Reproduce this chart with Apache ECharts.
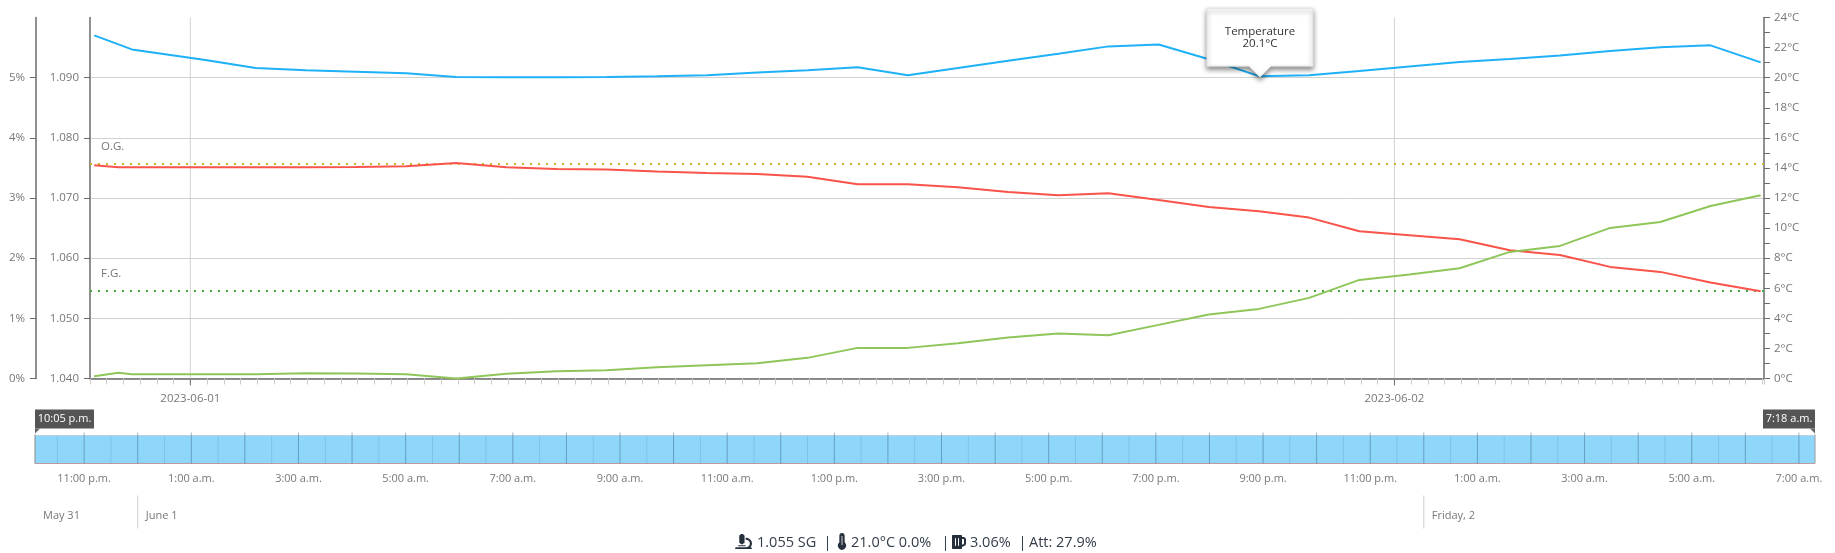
<!DOCTYPE html>
<html><head><meta charset="utf-8">
<style>html,body{margin:0;padding:0;background:#fff}#c{width:1835px;height:553px}</style>
<script src="https://cdn.jsdelivr.net/npm/echarts@6/dist/echarts.min.js"></script>
</head><body><div id="c"></div>
<script>
// minutes relative to 2023-06-01 00:00
const times=[-115,-86,-70,18,78,138,198,258,318,378,438,498,558,618,678,738,798,858,918,978,1038,1098,1158,1218,1278,1338,1398,1458,1518,1578,1638,1698,1758,1818,1878];
const temperature=[22.81,22.21,21.88,21.17,20.64,20.49,20.40,20.29,20.04,20.02,20.02,20.04,20.09,20.16,20.35,20.49,20.69,20.16,20.64,21.13,21.59,22.08,22.21,21.22,20.1,20.16,20.44,20.75,21.04,21.24,21.48,21.77,22.02,22.15,21.02];
const gravity=[1.07544,1.07511,1.07511,1.07511,1.07511,1.07511,1.07516,1.07527,1.07583,1.07511,1.07483,1.07472,1.07439,1.07416,1.0740,1.07355,1.07228,1.07228,1.07178,1.07101,1.07045,1.07079,1.06968,1.06852,1.0678,1.06674,1.06447,1.06381,1.06315,1.06132,1.06054,1.05855,1.05772,1.05595,1.05451];
const abv=[0.039,0.094,0.072,0.072,0.072,0.089,0.083,0.072,0,0.078,0.122,0.138,0.188,0.221,0.255,0.343,0.509,0.509,0.587,0.681,0.748,0.72,0.891,1.063,1.157,1.34,1.639,1.728,1.833,2.104,2.204,2.503,2.602,2.868,3.045];
const og=1.0757, fg=1.0546;
const sgTicks=[1.04,1.05,1.06,1.07,1.08,1.09];
const abvTicks=[0,1,2,3,4,5];
const dayTicks=[{t:0,label:'2023-06-01'},{t:1440,label:'2023-06-02'}];
const hourMarks=[-60,0,60,120,180,240,300,360,420,480,540,600,660,720,780,840,900,960,1020,1080,1140,1200,1260,1320,1380,1440,1500,1560,1620,1680,1740,1800,1860];
const halfMarks=[-90,-30,30,90,150,210,270,330,390,450,510,570,630,690,750,810,870,930,990,1050,1110,1170,1230,1290,1350,1410,1470,1530,1590,1650,1710,1770,1830];
const navLabels=[-60,60,180,300,420,540,660,780,900,1020,1140,1260,1380,1500,1620,1740,1860];
const navText=['11:00 p.m.','1:00 a.m.','3:00 a.m.','5:00 a.m.','7:00 a.m.','9:00 a.m.','11:00 a.m.','1:00 p.m.','3:00 p.m.','5:00 p.m.','7:00 p.m.','9:00 p.m.','11:00 p.m.','1:00 a.m.','3:00 a.m.','5:00 a.m.','7:00 a.m.'];
const dateRow=[{t:-115,label:'May 31',line:false},{t:0,label:'June 1',line:true},{t:1440,label:'Friday, 2',line:true}];
const startT=-115,endT=1878,startLabel='10:05 p.m.',endLabel='7:18 a.m.';
const tipIndex=24, tipTitle='Temperature', tipValue='20.1°C';

const FONT='"Open Sans"';
const GREY='#777';
const AX='#6b6b6b';
const ICON='#26303c';
const icons=[
 {d:'M160 320h12v16c0 8.84 7.16 16 16 16h40c8.84 0 16-7.16 16-16v-16h12c17.67 0 32-14.33 32-32V64c0-17.67-14.33-32-32-32V16c0-8.84-7.16-16-16-16h-64c-8.84 0-16 7.16-16 16v16c-17.67 0-32 14.33-32 32v224c0 17.67 14.33 32 32 32zm304 128h-1.29C493.24 413.99 512 369.2 512 320c0-105.88-86.12-192-192-192v64c70.58 0 128 57.42 128 128s-57.42 128-128 128H48c-26.51 0-48 21.49-48 48 0 8.84 7.16 16 16 16h480c8.84 0 16-7.16 16-16 0-26.51-21.49-48-48-48zm-360-32h208c4.42 0 8-3.58 8-8v-16c0-4.42-3.58-8-8-8H104c-4.42 0-8 3.58-8 8v16c0 4.42 3.58 8 8 8z',x:735,y:534,w:17,h:15},
 {d:'M8 0a4 4 0 0 0-4 4v8.5a6 6 0 1 0 8 0V4a4 4 0 0 0-4-4z',x:838,y:533,w:8,h:17},
 {d:'M368 96h-48V56c0-13.255-10.745-24-24-24H24C10.745 32 0 42.745 0 56v400c0 13.255 10.745 24 24 24h272c13.255 0 24-10.745 24-24v-42.11l80.606-35.977C429.396 365.063 448 336.388 448 304.86V176c0-44.112-35.888-80-80-80zm16 208.86a16.018 16.018 0 0 1-9.479 14.611L320 343.805V160h48c8.822 0 16 7.178 16 16v128.86zM208 384c-8.836 0-16-7.164-16-16V144c0-8.836 7.164-16 16-16s16 7.164 16 16v224c0 8.836-7.164 16-16 16zm-96 0c-8.836 0-16-7.164-16-16V144c0-8.836 7.164-16 16-16s16 7.164 16 16v224c0 8.836-7.164 16-16 16z',x:952,y:535,w:14,h:14}
];
const pair=a=>times.map((t,i)=>[t,a[i]]);
const lineSeries=(name,arr,yi,color,extra)=>Object.assign({name,type:'line',xAxisIndex:0,yAxisIndex:yi,data:pair(arr),showSymbol:false,clip:false,silent:true,z:5,lineStyle:{width:2,color}},extra||{});
const refLine=(v,name,color)=>({yAxis:v,name,lineStyle:{color,type:[2,6],width:2,cap:'butt',opacity:1},symbol:'none',
  label:{show:true,formatter:name,position:'insideStartTop',distance:[11,11],color:GREY,fontFamily:FONT,fontSize:11.5}});

const option={
 animation:false,
 backgroundColor:'#fff',
 textStyle:{fontFamily:FONT},
 grid:[{left:90,right:71,top:17.5,height:361,containLabel:false},{left:35,right:20,top:435.5,height:28}],
 xAxis:[
  {type:'value',gridIndex:0,min:-120,max:1882,interval:20,
   axisLine:{show:true,onZero:false,lineStyle:{color:AX,width:1.5}},
   axisTick:{show:true,length:6,lineStyle:{color:'#ccc',width:1}},
   splitLine:{show:false},
   axisLabel:{show:true,margin:14,color:GREY,fontFamily:FONT,fontSize:11.5,hideOverlap:false,
     formatter:v=>{const d=dayTicks.find(x=>x.t===v);return d?d.label:'';}}},
  {type:'value',gridIndex:1,min:startT,max:endT,
   axisLine:{show:false},axisTick:{show:false},splitLine:{show:false},
   axisLabel:{show:true,margin:10,color:GREY,fontFamily:FONT,fontSize:11,hideOverlap:false,showMinLabel:true,showMaxLabel:true,
     customValues:navLabels,formatter:v=>navText[navLabels.indexOf(v)]||''}}
 ],
 yAxis:[
  {type:'value',gridIndex:0,position:'left',min:1.04,max:1.10,interval:0.01,
   axisLine:{show:true,onZero:false,lineStyle:{color:AX,width:1.5}},
   axisTick:{show:true,length:6,lineStyle:{color:AX},customValues:sgTicks},
   splitLine:{show:true,lineStyle:{color:'#d2d2d2',width:1}},
   axisLabel:{margin:11,color:GREY,fontFamily:FONT,fontSize:11.5,customValues:sgTicks,formatter:v=>v.toFixed(3)}},
  {type:'value',gridIndex:0,position:'left',offset:54,min:0,max:6,interval:1,
   axisLine:{show:true,onZero:false,lineStyle:{color:AX,width:1.5}},
   axisTick:{show:true,length:6,lineStyle:{color:AX},customValues:abvTicks},
   splitLine:{show:false},
   axisLabel:{margin:11,color:GREY,fontFamily:FONT,fontSize:11.5,customValues:abvTicks,formatter:v=>v+'%'}},
  {type:'value',gridIndex:0,position:'right',min:0,max:24,interval:1,
   axisLine:{show:true,onZero:false,lineStyle:{color:AX,width:1.5}},
   axisTick:{show:true,length:6,lineStyle:{color:AX}},
   splitLine:{show:false},
   axisLabel:{margin:10,color:GREY,fontFamily:FONT,fontSize:11.5,formatter:v=>v%2===0?v+'°C':''}},
  {type:'value',gridIndex:1,min:0,max:1,show:false}
 ],
 series:[
  // midnight gridlines + long ticks
  {type:'custom',xAxisIndex:0,yAxisIndex:0,data:dayTicks.map(d=>[d.t,1.04]),clip:false,silent:true,z:1,
   renderItem:(p,api)=>{const b=api.coord([api.value(0),1.04]),t=api.coord([api.value(0),1.10]);
     return {type:'group',children:[
       {type:'line',shape:{x1:b[0],y1:t[1],x2:b[0],y2:b[1]},style:{stroke:'#d2d2d2',lineWidth:1}},
       {type:'line',shape:{x1:b[0],y1:b[1],x2:b[0],y2:b[1]+7},style:{stroke:AX,lineWidth:1}}]};}},
  lineSeries('Temperature',temperature,2,'#1fb1f7'),
  lineSeries('Gravity',gravity,0,'#f9534a',{markLine:{silent:true,symbol:'none',precision:4,animation:false,data:[refLine(og,'O.G.','#cdb323'),refLine(fg,'F.G.','#3fae3f')]}}),
  lineSeries('ABV',abv,1,'#8fc65a'),
  // tooltip callout
  {type:'custom',xAxisIndex:0,yAxisIndex:2,data:[[times[tipIndex],temperature[tipIndex]]],clip:false,silent:true,z:30,
   renderItem:(p,api)=>{const c=api.coord([api.value(0),api.value(1)]);const x=c[0]+1,y=c[1]+1;
     const l=x-53,r=x+53,b=y-11,t=y-69;
     return {type:'group',children:[
       {type:'polygon',shape:{points:[[l,t],[r,t],[r,b],[x+11,b],[x,y],[x-11,b],[l,b]]},
        style:{fill:'#fff',stroke:'#e2e2e2',lineWidth:1,shadowBlur:5,shadowColor:'rgba(0,0,0,0.45)',shadowOffsetY:3,shadowOffsetX:0}},
       {type:'text',x:x,y:t+24,style:{text:tipTitle,fill:'#333',font:'11.5px '+FONT,textAlign:'center',textVerticalAlign:'middle'}},
       {type:'text',x:x,y:t+36,style:{text:tipValue,fill:'#333',font:'11.5px '+FONT,textAlign:'center',textVerticalAlign:'middle'}}]};}},
  // navigator band
  {type:'custom',xAxisIndex:1,yAxisIndex:3,data:[[startT,endT]],clip:false,silent:true,z:2,
   renderItem:(p,api)=>{const a=api.coord([api.value(0),1]),b=api.coord([api.value(1),0]);
     return {type:'group',children:[
       {type:'rect',shape:{x:a[0],y:a[1],width:b[0]-a[0],height:b[1]-a[1]},style:{fill:'#8fd7fa'}},
       {type:'line',shape:{x1:a[0],y1:b[1],x2:b[0],y2:b[1]},style:{stroke:'#c09a9e',lineWidth:1}},
       {type:'line',shape:{x1:a[0],y1:a[1],x2:b[0],y2:a[1]},style:{stroke:'#bcd3de',lineWidth:1}},
       {type:'line',shape:{x1:a[0],y1:a[1]-1,x2:a[0],y2:b[1]},style:{stroke:'#8a8a8a',lineWidth:1}},
       {type:'line',shape:{x1:b[0],y1:a[1]-1,x2:b[0],y2:b[1]},style:{stroke:'#9a9a9a',lineWidth:1}}]};}},
  {type:'custom',xAxisIndex:1,yAxisIndex:3,data:halfMarks.map(t=>[t]),clip:false,silent:true,z:3,
   renderItem:(p,api)=>{const a=api.coord([api.value(0),1]),b=api.coord([api.value(0),0]);
     return {type:'line',shape:{x1:a[0],y1:a[1],x2:a[0],y2:b[1]},style:{stroke:'rgba(70,140,190,0.25)',lineWidth:1}};}},
  {type:'custom',xAxisIndex:1,yAxisIndex:3,data:hourMarks.map(t=>[t]),clip:false,silent:true,z:3,
   renderItem:(p,api)=>{const a=api.coord([api.value(0),1]),b=api.coord([api.value(0),0]);
     return {type:'line',shape:{x1:a[0],y1:a[1]-3,x2:a[0],y2:b[1]},style:{stroke:'rgba(50,90,125,0.45)',lineWidth:1}};}},
  // date row
  {type:'custom',xAxisIndex:1,yAxisIndex:3,data:dateRow.map((d,i)=>[d.t,i]),clip:false,silent:true,z:3,
   renderItem:(p,api)=>{const d=dateRow[api.value(1)];const b=api.coord([api.value(0),0]);const ch=[];
     if(d.line)ch.push({type:'line',shape:{x1:b[0],y1:b[1]+32,x2:b[0],y2:b[1]+65},style:{stroke:'#ccc',lineWidth:1}});
     ch.push({type:'text',x:b[0]+8,y:b[1]+52,style:{text:d.label,fill:GREY,font:'11px '+FONT,textAlign:'left',textVerticalAlign:'middle'}});
     return {type:'group',children:ch};}},
  // range handle labels
  {type:'custom',xAxisIndex:1,yAxisIndex:3,data:[[startT,0],[endT,1]],clip:false,silent:true,z:10,
   renderItem:(p,api)=>{const a=api.coord([api.value(0),1]);const right=api.value(1)===1;
     const w=right?52:59,x0=right?a[0]-w:a[0],yb=a[1]-7,yt=yb-19;
     const tip=right?[[a[0],yb],[a[0]-5,yb],[a[0],yb+5]]:[[a[0],yb],[a[0]+5,yb],[a[0],yb+5]];
     return {type:'group',children:[
       {type:'rect',shape:{x:x0,y:yt,width:w,height:19},style:{fill:'#555'}},
       {type:'polygon',shape:{points:tip},style:{fill:'#666'}},
       {type:'text',x:x0+w/2,y:yt+9.5,style:{text:right?endLabel:startLabel,fill:'#fff',font:'11px '+FONT,textAlign:'center',textVerticalAlign:'middle'}}]};}},
  // footer icons
  {type:'custom',coordinateSystem:'none',data:[[0]],silent:true,z:10,
   renderItem:()=>({type:'group',children:icons.map(i=>({type:'path',shape:{pathData:i.d,layout:'cover',x:i.x,y:i.y,width:i.w,height:i.h},style:{fill:ICON}})).concat([
     {type:'line',shape:{x1:842,y1:536,x2:842,y2:545},style:{stroke:'#cfd3d8',lineWidth:1}}])})}
 ],
 graphic:[
  ...[[757,'1.055 SG'],[823.5,'|'],[851,'21.0°C 0.0%'],[941.5,'|'],[970,'3.06%'],[1018.5,'|'],[1029,'Att: 27.9%']].map(([x,text])=>({type:'text',x,y:543,style:{text,fill:'#333d4a',font:'14.5px '+FONT,textAlign:'left',textVerticalAlign:'middle'}}))
 ]
};
echarts.init(document.getElementById('c'),null,{renderer:'canvas'}).setOption(option);
</script></body></html>
